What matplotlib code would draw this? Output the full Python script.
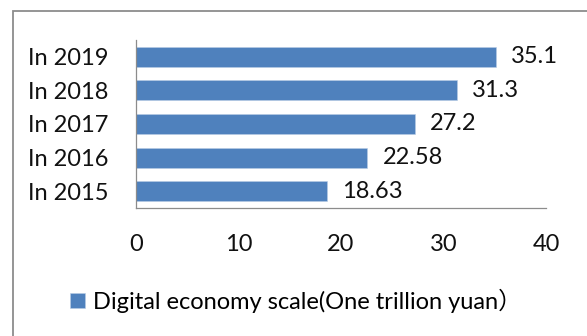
import matplotlib.pyplot as plt
from matplotlib.patches import Rectangle

# данные с картинки
years = ["In 2015", "In 2016", "In 2017", "In 2018", "In 2019"]
scale = [18.63, 22.58, 27.2, 31.3, 35.1]
value_labels = ["18.63", "22.58", "27.2", "31.3", "35.1"]
x_ticks = [0, 10, 20, 30, 40]
legend_label = "Digital economy scale(One trillion yuan）"

plt.rcParams['font.family'] = ['Lato', 'Noto Sans CJK SC', 'DejaVu Sans']
fs = 17

fig = plt.figure(figsize=(5.87, 3.36), dpi=100)
ax = fig.add_axes([136 / 587, 1 - 208 / 336, 410 / 587, 168 / 336])

bars = ax.barh(range(len(years)), scale, height=0.59, color='#4F81BD',
               edgecolor='#B9CDE5', linewidth=0.4, label=legend_label)
ax.bar_label(bars, labels=value_labels, padding=11, fontsize=fs, color='#111111')

ax.set_xlim(0, 40)
ax.set_ylim(-0.5, 4.5)
ax.set_xticks(x_ticks)
ax.set_yticks(range(len(years)))
ax.set_yticklabels(years)
ax.tick_params(axis='x', length=0, pad=19, labelsize=fs, colors='#111111')
ax.tick_params(axis='y', length=0, pad=20, labelsize=fs, colors='#111111')

for side in ['top', 'right']:
    ax.spines[side].set_visible(False)
for side in ['left', 'bottom']:
    ax.spines[side].set_color('#8C8C8C')
    ax.spines[side].set_linewidth(0.9)

# внешняя рамка области диаграммы
frame = Rectangle((12.5 / 587, -0.2), 1.0, 1.2 - 10.5 / 336,
                  transform=fig.transFigure, fill=False,
                  edgecolor='#8C8C8C', linewidth=1.3)
fig.patches.append(frame)

fig.legend(handles=[bars], labels=[legend_label], loc='center left',
           bbox_to_anchor=(70 / 587, 1 - 300.5 / 336), frameon=False,
           fontsize=fs, borderpad=0, borderaxespad=0,
           handlelength=0.63, handleheight=0.63, handletextpad=0.34)

fig.savefig('out.png', dpi=100)
